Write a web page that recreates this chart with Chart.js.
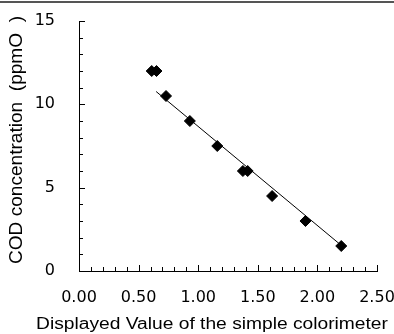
<!DOCTYPE html>
<html>
<head>
<meta charset="utf-8">
<script src="https://cdn.jsdelivr.net/npm/chart.js@4"></script>
<style>
  html, body { margin: 0; padding: 0; background: #fff; }
  #wrap { position: relative; width: 394px; height: 334px; }
  #topRule { position: absolute; left: 0; top: 1px; width: 394px; height: 2px; background: #555; }
</style>
</head>
<body>
<div id="wrap">
  <canvas id="chart" width="394" height="334"></canvas>
  <div id="topRule"></div>
</div>
<script>
// measured points (colorimeter reading vs COD)
const readings = [0.61, 0.65, 0.73, 0.93, 1.16, 1.375, 1.415, 1.62, 1.90, 2.20];
const codValues = [12, 12, 10.5, 9, 7.5, 6, 6, 4.5, 3, 1.5];

// fitted line end points
const fitX = [0.647, 2.20];
const fitY = [10.77, 1.54];

const xTitle = "Displayed Value of the simple colorimeter";
const yTitle = "COD concentration  (ppmO  )";

const FONT = "'DejaVu Sans', sans-serif";
const TITLE_FAMILY = "'Liberation Sans', Arial, sans-serif";
Chart.defaults.font.family = FONT;
Chart.defaults.font.size = 16;
Chart.defaults.color = "#000";

// small inward tick marks + axis titles (chart.js squeezes long titles to the axis width)
const axisExtras = {
    id: "axisExtras",
    afterDraw(chart) {
        const { ctx, chartArea, scales } = chart;
        ctx.save();
        ctx.strokeStyle = "#000";
        ctx.lineWidth = 1;
        for (let i = 0; i <= 15; i++) {
            const y = Math.round(scales.y.getPixelForValue(i)) + 0.5;
            const len = i % 5 === 0 ? 6 : 4;
            ctx.beginPath();
            ctx.moveTo(chartArea.left, y);
            ctx.lineTo(chartArea.left + len, y);
            ctx.stroke();
        }
        for (let i = 0; i <= 25; i++) {
            const x = Math.round(scales.x.getPixelForValue(i / 10)) + 0.5;
            const len = i % 5 === 0 ? 6 : 4;
            ctx.beginPath();
            ctx.moveTo(x, chartArea.bottom);
            ctx.lineTo(x, chartArea.bottom - len);
            ctx.stroke();
        }
        ctx.restore();

        // titles: the original glyphs are a bit stretched
        ctx.save();
        ctx.fillStyle = "#000";
        ctx.font = "16px " + TITLE_FAMILY;
        ctx.textAlign = "center";
        ctx.textBaseline = "middle";
        ctx.translate(212, 325);
        ctx.scale(1.2, 1);
        ctx.fillText(xTitle, 0, 0);
        ctx.restore();

        ctx.save();
        ctx.fillStyle = "#000";
        ctx.font = "18px " + TITLE_FAMILY;
        ctx.textAlign = "center";
        ctx.textBaseline = "middle";
        ctx.translate(17, 140);
        ctx.rotate(-Math.PI / 2);
        ctx.scale(1.06, 1);
        ctx.fillText(yTitle, 0, 0);
        ctx.restore();
    }
};

// drop the extra room chart.js reserves around tick labels
const noPad = s => {
    s.paddingLeft = 0;
    s.paddingRight = 0;
    s.paddingTop = 0;
    s.paddingBottom = 0;
};

new Chart(document.getElementById("chart"), {
    type: "scatter",
    data: {
        datasets: [
            {
                label: "fit",
                data: fitX.map((x, i) => ({ x: x, y: fitY[i] })),
                showLine: true,
                borderColor: "#000",
                borderWidth: 1,
                pointRadius: 0
            },
            {
                label: "measured",
                data: readings.map((x, i) => ({ x: x, y: codValues[i] })),
                pointStyle: "rectRot",
                pointRadius: 5.5,
                backgroundColor: "#000",
                borderColor: "#000",
                borderWidth: 1
            }
        ]
    },
    options: {
        responsive: false,
        animation: false,
        layout: { padding: { top: 21, right: 17, left: 0, bottom: 0 } },
        plugins: {
            legend: { display: false },
            tooltip: { enabled: false }
        },
        scales: {
            x: {
                type: "linear",
                min: 0,
                max: 2.5,
                grid: { display: false, drawTicks: false },
                border: { display: true, color: "#000", width: 1 },
                ticks: {
                    stepSize: 0.5,
                    padding: 17,
                    maxRotation: 0,
                    callback: v => v.toFixed(2)
                },
                afterFit: s => { noPad(s); s.height = 63; }
            },
            y: {
                type: "linear",
                min: 0,
                max: 15,
                grid: { display: false, drawTicks: false },
                border: { display: true, color: "#000", width: 1 },
                ticks: { stepSize: 5, padding: 24 },
                afterFit: s => { noPad(s); s.width = 79; }
            }
        }
    },
    plugins: [axisExtras]
});
</script>
</body>
</html>
